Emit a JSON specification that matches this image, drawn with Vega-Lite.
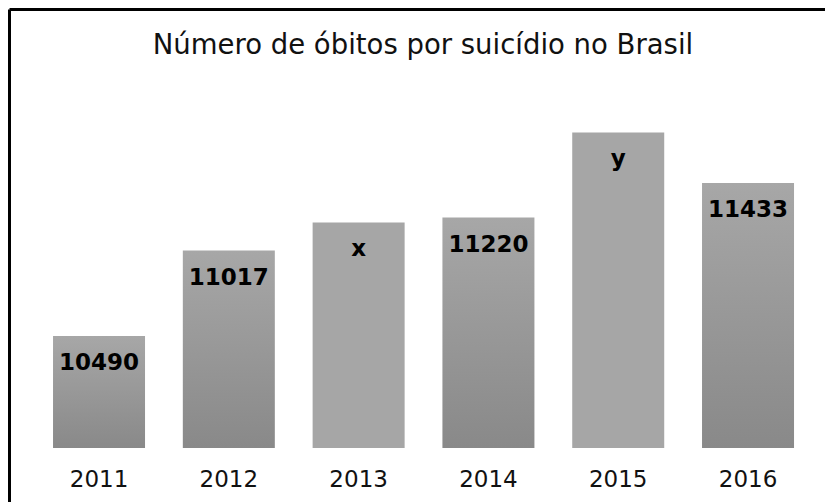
{
  "$schema": "https://vega.github.io/schema/vega-lite/v6.json",
  "autosize": "none",
  "width": 816,
  "height": 493,
  "padding": {"left": 9, "top": 9, "right": 0, "bottom": 0},
  "background": "white",
  "config": {"view": {"stroke": null}, "font": "DejaVu Sans"},
  "title": {
    "text": "Número de óbitos por suicídio no Brasil",
    "fontSize": 27.5,
    "fontWeight": "normal",
    "font": "DejaVu Sans",
    "color": "#111111",
    "baseline": "alphabetic",
    "anchor": "middle",
    "offset": -72,
    "dx": 6
  },
  "data": {
    "values": [
      {"year": "2011", "value": 10490, "label": "10490"},
      {"year": "2012", "value": 11017, "label": "11017"},
      {"year": "2013", "value": 11190, "label": "x"},
      {"year": "2014", "value": 11220, "label": "11220"},
      {"year": "2015", "value": 11745, "label": "y"},
      {"year": "2016", "value": 11433, "label": "11433"}
    ]
  },
  "encoding": {
    "x": {
      "field": "year",
      "type": "nominal",
      "scale": {"paddingInner": 0.2912, "paddingOuter": 0.2889, "align": 0.587},
      "axis": {
        "orient": "top",
        "title": null,
        "labels": false,
        "ticks": false,
        "domain": true,
        "domainColor": "#000000",
        "domainWidth": 3,
        "grid": false
      }
    }
  },
  "layer": [
    {
      "transform": [{"filter": "datum.label != 'x' && datum.label != 'y'"}],
      "mark": {
        "type": "bar",
        "color": {
          "gradient": "linear",
          "x1": 0, "y1": 0, "x2": 0, "y2": 1,
          "stops": [
            {"offset": 0, "color": "#a7a7a7"},
            {"offset": 1, "color": "#898989"}
          ]
        }
      },
      "encoding": {
        "y": {
          "field": "value",
          "type": "quantitative",
          "scale": {"domain": [9467, 12506], "zero": false, "nice": false},
          "axis": {
            "title": null,
            "labels": false,
            "ticks": false,
            "grid": false,
            "domain": true,
            "domainColor": "#000000",
            "domainWidth": 3
          }
        },
        "y2": {"datum": 9800}
      }
    },
    {
      "transform": [{"filter": "datum.label == 'x' || datum.label == 'y'"}],
      "mark": {"type": "bar", "color": "#a6a6a6"},
      "encoding": {
        "y": {"field": "value", "type": "quantitative"},
        "y2": {"datum": 9800}
      }
    },
    {
      "mark": {
        "type": "text",
        "baseline": "alphabetic",
        "dy": 34,
        "fontSize": 23,
        "fontWeight": "bold",
        "font": "DejaVu Sans",
        "color": "#000000"
      },
      "encoding": {
        "y": {"field": "value", "type": "quantitative"},
        "text": {"field": "label"}
      }
    },
    {
      "mark": {
        "type": "text",
        "baseline": "alphabetic",
        "dy": 39,
        "fontSize": 23,
        "font": "DejaVu Sans",
        "color": "#111111"
      },
      "encoding": {
        "y": {"datum": 9800},
        "text": {"field": "year"}
      }
    }
  ]
}
